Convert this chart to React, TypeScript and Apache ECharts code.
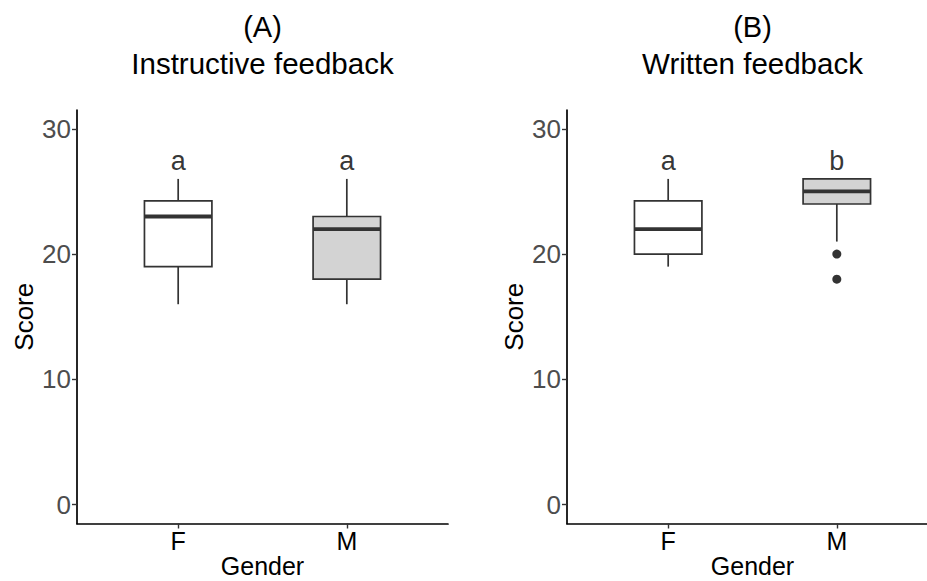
import React, { useEffect, useRef } from "react";
import * as echarts from "echarts";

// ---------- data ----------
const categories = ["F", "M"];
const panelTags = ["(A)", "(B)"];
const panelTitles = ["Instructive feedback", "Written feedback"];
// [lower whisker, Q1, median, Q3, upper whisker]
const instructiveF = [16, 19, 23, 24.25, 26];
const instructiveM = [16, 18, 22, 23, 26];
const writtenF = [19, 20, 22, 24.25, 26];
const writtenM = [21, 24, 25, 26, 26];
const writtenOutliersM = [20, 18];
const lettersInstructive = ["a", "a"];
const lettersWritten = ["a", "b"];
const letterY = 28;
const yTicks = [0, 10, 20, 30];
const boxFills = ["#FFFFFF", "#D3D3D3"];

const FONT = "Liberation Sans, Arial, Helvetica, sans-serif";
const BOX_WIDTH = 0.4;

function boxData(f: number[], m: number[]) {
  return [f, m].map((v, i) => [i + 1, ...v]);
}

const renderBox = (params: any, api: any) => {
  const x = api.value(0);
  const lo = api.value(1);
  const q1 = api.value(2);
  const med = api.value(3);
  const q3 = api.value(4);
  const hi = api.value(5);
  const w = api.size([BOX_WIDTH, 0])[0];
  const pLo = api.coord([x, lo]);
  const pQ1 = api.coord([x, q1]);
  const pMed = api.coord([x, med]);
  const pQ3 = api.coord([x, q3]);
  const pHi = api.coord([x, hi]);
  const stroke = "#333333";
  const fill = boxFills[Math.round(x) - 1] || "#fff";
  return {
    type: "group",
    children: [
      {
        type: "line",
        shape: { x1: pLo[0], y1: pLo[1], x2: pQ1[0], y2: pQ1[1] },
        style: { stroke, lineWidth: 1.7 },
      },
      {
        type: "line",
        shape: { x1: pQ3[0], y1: pQ3[1], x2: pHi[0], y2: pHi[1] },
        style: { stroke, lineWidth: 1.7 },
      },
      {
        type: "rect",
        shape: { x: pQ1[0] - w / 2, y: pQ3[1], width: w, height: pQ1[1] - pQ3[1] },
        style: { fill, stroke, lineWidth: 1.7 },
      },
      {
        type: "line",
        shape: { x1: pMed[0] - w / 2, y1: pMed[1], x2: pMed[0] + w / 2, y2: pMed[1] },
        style: { stroke, lineWidth: 3.8 },
      },
    ],
  };
};

const grids = [
  { left: 77, top: 110, width: 371, height: 413.5, outerBoundsMode: "none", containLabel: false },
  { left: 567, top: 110, width: 371, height: 413.5, outerBoundsMode: "none", containLabel: false },
];

function xAxisFor(i: number) {
  return {
    type: "value",
    gridIndex: i,
    min: 0.4,
    max: 2.6,
    name: "Gender",
    nameLocation: "middle",
    nameGap: 30,
    nameMoveOverlap: false,
    nameTextStyle: { fontFamily: FONT, fontSize: 25, color: "#000" },
    splitLine: { show: false },
    axisLine: { show: true, onZero: false, lineStyle: { color: "#000", width: 1.7 } },
    axisTick: {
      show: true,
      customValues: [1, 2],
      length: 5,
      lineStyle: { color: "#333", width: 1.4 },
    },
    axisLabel: {
      show: true,
      customValues: [1, 2],
      margin: 5,
      fontFamily: FONT,
      fontSize: 25,
      color: "#000",
      formatter: (v: number) => categories[Math.round(v) - 1] ?? "",
    },
  };
}

function yAxisFor(i: number) {
  return {
    type: "value",
    gridIndex: i,
    min: -1.5,
    max: 31.5,
    name: "Score",
    nameLocation: "middle",
    nameGap: 40,
    nameMoveOverlap: false,
    nameRotate: 90,
    nameTextStyle: { fontFamily: FONT, fontSize: 26, color: "#000" },
    splitLine: { show: false },
    axisLine: { show: true, onZero: false, lineStyle: { color: "#000", width: 1.7 } },
    axisTick: {
      show: true,
      customValues: yTicks,
      length: 5,
      lineStyle: { color: "#333", width: 1.4 },
    },
    axisLabel: {
      show: true,
      customValues: yTicks,
      margin: 6,
      fontFamily: FONT,
      fontSize: 26,
      color: "#4D4D4D",
    },
  };
}

function letterSeries(i: number, letters: string[]) {
  return {
    type: "scatter",
    xAxisIndex: i,
    yAxisIndex: i,
    symbolSize: 0,
    data: letters.map((_, k) => [k + 1, letterY]),
    label: {
      show: true,
      position: "inside",
      offset: [0, 7],
      formatter: (p: any) => letters[p.dataIndex],
      fontFamily: FONT,
      fontSize: 27,
      color: "#000",
    },
    silent: true,
  };
}

export default function App() {
  const ref = useRef<HTMLDivElement>(null);
  useEffect(() => {
    if (!ref.current) return;
    const chart = echarts.init(ref.current, null, { renderer: "svg" });
    const titleGraphics: any[] = [];
    grids.forEach((g, i) => {
      const cx = g.left + g.width / 2;
      titleGraphics.push({
        type: "text",
        x: cx,
        y: 27,
        style: {
          text: panelTags[i],
          fontFamily: FONT,
          fontSize: 29,
          fill: "#000",
          align: "center",
          verticalAlign: "middle",
        },
      });
      titleGraphics.push({
        type: "text",
        x: cx,
        y: 63,
        style: {
          text: panelTitles[i],
          fontFamily: FONT,
          fontSize: 29.5,
          fill: "#000",
          align: "center",
          verticalAlign: "middle",
        },
      });
    });
    chart.setOption({
      animation: false,
      backgroundColor: "#fff",
      grid: grids,
      xAxis: [xAxisFor(0), xAxisFor(1)],
      yAxis: [yAxisFor(0), yAxisFor(1)],
      graphic: titleGraphics,
      series: [
        {
          type: "custom",
          xAxisIndex: 0,
          yAxisIndex: 0,
          renderItem: renderBox,
          encode: { x: 0, y: [1, 2, 3, 4, 5] },
          data: boxData(instructiveF, instructiveM),
        },
        {
          type: "custom",
          xAxisIndex: 1,
          yAxisIndex: 1,
          renderItem: renderBox,
          encode: { x: 0, y: [1, 2, 3, 4, 5] },
          data: boxData(writtenF, writtenM),
        },
        {
          type: "scatter",
          xAxisIndex: 1,
          yAxisIndex: 1,
          symbolSize: 9,
          itemStyle: { color: "#333333", opacity: 1 },
          data: writtenOutliersM.map((v) => [2, v]),
        },
        letterSeries(0, lettersInstructive),
        letterSeries(1, lettersWritten),
      ],
    });
    return () => chart.dispose();
  }, []);
  return (
    <div
      ref={ref}
      style={{ position: "fixed", left: 0, top: 0, width: 927, height: 581 }}
    />
  );
}
